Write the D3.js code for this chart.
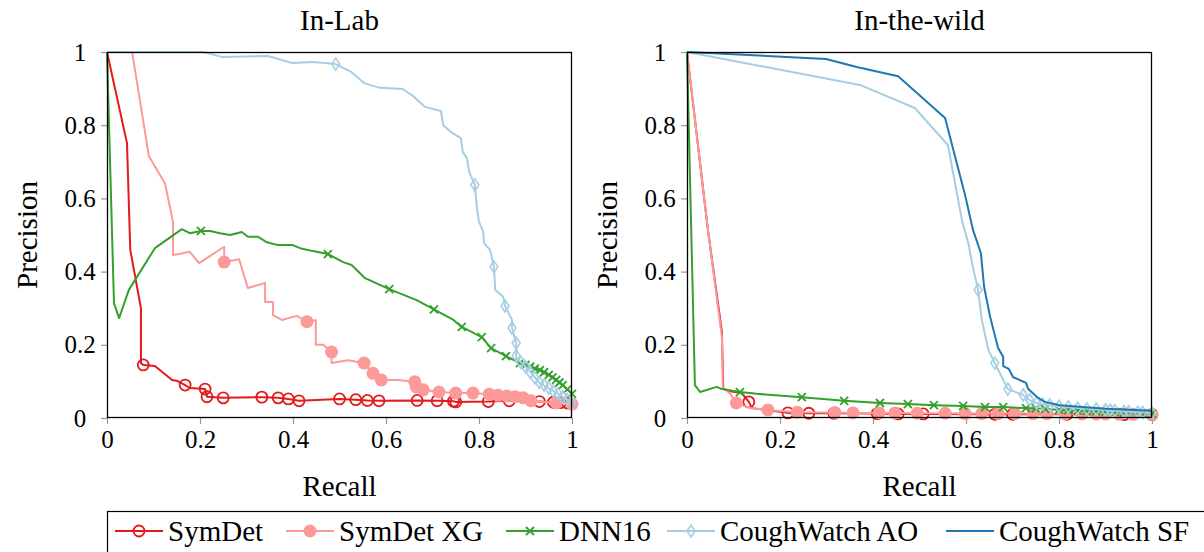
<!DOCTYPE html>
<html>
<head>
<meta charset="utf-8">
<script src="https://cdn.jsdelivr.net/npm/d3@7"></script>
<style>
  html, body { margin: 0; padding: 0; background: #fff; }
  svg { display: block; }
  text { font-family: "Liberation Serif", "DejaVu Serif", serif; fill: #000; }
</style>
</head>
<body>
<svg id="chart" width="1204" height="552"></svg>
<script>
// ---- Data: precision/recall curves ----
const seriesNames = ["SymDet", "SymDet XG", "DNN16", "CoughWatch AO", "CoughWatch SF"];
const panelTitles = ["In-Lab", "In-the-wild"];
const tickValues = [0, 0.2, 0.4, 0.6, 0.8, 1];

// In-Lab
const labSymDet = [[0,1],[0.043,0.751],[0.05,0.46],[0.073,0.30],[0.073,0.15],[0.078,0.145],[0.103,0.142],[0.14,0.104],[0.15,0.102],[0.168,0.09],[0.178,0.082],[0.211,0.079],[0.215,0.058],[0.25,0.055],[0.333,0.057],[0.368,0.055],[0.39,0.052],[0.413,0.047],[0.5,0.052],[0.535,0.05],[0.56,0.048],[0.585,0.047],[0.667,0.048],[0.71,0.047],[0.745,0.046],[0.75,0.044],[0.82,0.045],[0.865,0.047],[0.93,0.045],[0.96,0.043],[0.98,0.042],[1,0.04]];
const labSymDetMarks = [[0.078,0.145],[0.168,0.09],[0.211,0.079],[0.215,0.058],[0.25,0.055],[0.333,0.057],[0.368,0.055],[0.39,0.052],[0.413,0.047],[0.5,0.052],[0.535,0.05],[0.56,0.048],[0.585,0.047],[0.667,0.048],[0.71,0.047],[0.745,0.046],[0.75,0.044],[0.82,0.045],[0.865,0.047],[0.93,0.045],[0.96,0.043],[0.975,0.042],[0.99,0.041]];

const labSymDetXG = [[0,1],[0.054,1],[0.09,0.716],[0.125,0.64],[0.142,0.535],[0.142,0.445],[0.178,0.454],[0.198,0.423],[0.252,0.468],[0.252,0.426],[0.284,0.434],[0.303,0.355],[0.34,0.369],[0.34,0.317],[0.357,0.317],[0.357,0.281],[0.376,0.268],[0.408,0.279],[0.43,0.263],[0.449,0.268],[0.449,0.2],[0.465,0.2],[0.483,0.18],[0.483,0.15],[0.518,0.158],[0.553,0.15],[0.572,0.122],[0.59,0.104],[0.625,0.104],[0.662,0.099],[0.665,0.085],[0.68,0.077],[0.714,0.071],[0.75,0.068],[0.787,0.068],[0.822,0.065],[0.841,0.062],[0.86,0.06],[0.878,0.058],[0.895,0.055],[0.912,0.047],[0.966,0.041],[1,0.038]];
const labSymDetXGMarks = [[0.252,0.426],[0.43,0.263],[0.483,0.18],[0.553,0.15],[0.572,0.122],[0.59,0.104],[0.662,0.099],[0.665,0.085],[0.68,0.077],[0.714,0.071],[0.75,0.068],[0.787,0.068],[0.822,0.065],[0.841,0.062],[0.86,0.06],[0.878,0.058],[0.895,0.055],[0.912,0.047],[0.966,0.041],[1,0.038]];

const labDNN16 = [[0,1],[0.015,0.314],[0.026,0.273],[0.047,0.35],[0.103,0.464],[0.161,0.516],[0.178,0.505],[0.202,0.511],[0.222,0.511],[0.243,0.505],[0.265,0.5],[0.29,0.508],[0.303,0.495],[0.325,0.495],[0.344,0.48],[0.366,0.473],[0.398,0.473],[0.415,0.464],[0.443,0.456],[0.475,0.448],[0.508,0.426],[0.526,0.418],[0.555,0.382],[0.607,0.352],[0.666,0.322],[0.703,0.297],[0.745,0.268],[0.763,0.249],[0.806,0.221],[0.826,0.191],[0.858,0.169],[0.888,0.15],[0.91,0.14],[0.931,0.131],[0.95,0.118],[0.966,0.104],[0.98,0.09],[1,0.066]];
const labDNN16Marks = [[0.202,0.511],[0.475,0.448],[0.607,0.352],[0.703,0.297],[0.763,0.249],[0.806,0.221],[0.826,0.191],[0.858,0.169],[0.888,0.15],[0.9,0.145],[0.91,0.14],[0.92,0.135],[0.931,0.131],[0.94,0.125],[0.95,0.118],[0.958,0.111],[0.966,0.104],[0.973,0.097],[0.98,0.09],[0.99,0.078],[1,0.066]];

const labCoughAO = [[0,1],[0.207,1],[0.249,0.986],[0.346,0.989],[0.398,0.97],[0.443,0.973],[0.492,0.967],[0.526,0.945],[0.553,0.915],[0.587,0.902],[0.636,0.899],[0.658,0.88],[0.684,0.85],[0.718,0.839],[0.723,0.8],[0.742,0.779],[0.761,0.765],[0.765,0.727],[0.774,0.71],[0.779,0.672],[0.791,0.637],[0.796,0.568],[0.8,0.536],[0.809,0.51],[0.811,0.478],[0.824,0.459],[0.832,0.413],[0.835,0.35],[0.852,0.331],[0.856,0.306],[0.871,0.268],[0.871,0.246],[0.88,0.205],[0.88,0.164],[0.903,0.137],[0.931,0.095],[0.968,0.068],[1,0.04]];
const labCoughAOMarks = [[0.492,0.967],[0.791,0.637],[0.832,0.413],[0.856,0.306],[0.871,0.246],[0.88,0.205],[0.88,0.17],[0.89,0.152],[0.9,0.14],[0.91,0.125],[0.92,0.11],[0.93,0.097],[0.94,0.09],[0.95,0.082],[0.96,0.073],[0.97,0.066],[0.98,0.058],[0.99,0.05],[1,0.04]];

// In-the-wild
const wildSymDet = [[0,1],[0.045,0.514],[0.075,0.235],[0.078,0.08],[0.09,0.074],[0.118,0.068],[0.133,0.044],[0.14,0.027],[0.217,0.014],[0.262,0.013],[0.316,0.013],[0.409,0.012],[0.454,0.011],[0.508,0.011],[0.662,0.01],[0.817,0.01],[0.94,0.009],[1,0.009]];
const wildSymDetMarks = [[0.133,0.044],[0.217,0.014],[0.262,0.013],[0.316,0.013],[0.409,0.012],[0.454,0.011],[0.508,0.011],[0.662,0.01],[0.7,0.01],[0.817,0.01],[0.94,0.009],[1,0.009]];

const wildSymDetXG = [[0,1],[0.045,0.514],[0.075,0.221],[0.077,0.082],[0.092,0.068],[0.106,0.041],[0.135,0.027],[0.174,0.022],[0.237,0.016],[0.318,0.015],[0.357,0.014],[0.413,0.014],[0.447,0.014],[0.495,0.013],[0.555,0.013],[0.598,0.012],[0.634,0.012],[0.669,0.012],[0.705,0.012],[0.744,0.012],[0.774,0.012],[0.813,0.011],[0.85,0.011],[0.88,0.011],[0.9,0.011],[0.93,0.01],[0.96,0.01],[1,0.01]];
const wildSymDetXGMarks = [[0.106,0.041],[0.174,0.022],[0.237,0.016],[0.318,0.015],[0.357,0.014],[0.413,0.014],[0.447,0.014],[0.495,0.013],[0.555,0.013],[0.598,0.012],[0.634,0.012],[0.669,0.012],[0.705,0.012],[0.744,0.012],[0.774,0.012],[0.813,0.011],[0.85,0.011],[0.88,0.011],[0.9,0.011],[0.93,0.01],[0.96,0.01],[1,0.01]];

const wildDNN16 = [[0,1],[0.017,0.09],[0.028,0.071],[0.064,0.085],[0.075,0.079],[0.114,0.071],[0.15,0.066],[0.247,0.057],[0.338,0.047],[0.415,0.041],[0.475,0.038],[0.531,0.035],[0.594,0.033],[0.641,0.03],[0.68,0.03],[0.729,0.027],[0.77,0.025],[0.8,0.022],[0.84,0.02],[0.88,0.018],[0.92,0.016],[0.96,0.014],[1,0.012]];
const wildDNN16Marks = [[0.114,0.071],[0.247,0.057],[0.338,0.047],[0.415,0.041],[0.475,0.038],[0.531,0.035],[0.594,0.033],[0.641,0.03],[0.68,0.03],[0.729,0.027],[0.75,0.026],[0.77,0.025],[0.8,0.022],[0.82,0.021],[0.84,0.02],[0.86,0.019],[0.88,0.018],[0.9,0.017],[0.92,0.016],[0.94,0.015],[0.96,0.014],[0.98,0.013],[1,0.012]];

const wildCoughAO = [[0,1],[0.372,0.91],[0.49,0.847],[0.561,0.746],[0.592,0.536],[0.606,0.473],[0.613,0.423],[0.626,0.35],[0.634,0.268],[0.648,0.186],[0.662,0.15],[0.677,0.112],[0.69,0.079],[0.723,0.063],[0.737,0.049],[0.752,0.041],[0.78,0.035],[0.82,0.03],[0.86,0.025],[0.9,0.022],[0.94,0.018],[0.97,0.016],[1,0.014]];
const wildCoughAOMarks = [[0.626,0.35],[0.662,0.15],[0.69,0.079],[0.723,0.063],[0.737,0.049],[0.752,0.041],[0.765,0.038],[0.78,0.035],[0.8,0.032],[0.82,0.03],[0.84,0.027],[0.86,0.025],[0.88,0.024],[0.9,0.022],[0.91,0.021],[0.92,0.02],[0.94,0.018],[0.95,0.017],[0.97,0.016],[0.98,0.015],[1,0.014]];

const wildCoughSF = [[0,1],[0.299,0.981],[0.365,0.959],[0.454,0.934],[0.555,0.82],[0.598,0.609],[0.615,0.514],[0.626,0.473],[0.632,0.45],[0.639,0.358],[0.652,0.276],[0.669,0.191],[0.68,0.167],[0.68,0.142],[0.692,0.134],[0.701,0.112],[0.729,0.096],[0.734,0.079],[0.752,0.058],[0.769,0.044],[0.802,0.035],[0.85,0.03],[0.9,0.025],[1,0.02]];

// ---- Styles ----
const colors = { "SymDet": "#e31a1c", "SymDet XG": "#fb9a99", "DNN16": "#33a02c", "CoughWatch AO": "#a6cee3", "CoughWatch SF": "#1f78b4" };
const markerKind = { "SymDet": "ocircle", "SymDet XG": "fcircle", "DNN16": "cross", "CoughWatch AO": "diamond", "CoughWatch SF": null };

const panels = [
  { title: panelTitles[0], left: 107, series: [
    ["SymDet", labSymDet, labSymDetMarks],
    ["SymDet XG", labSymDetXG, labSymDetXGMarks],
    ["DNN16", labDNN16, labDNN16Marks],
    ["CoughWatch AO", labCoughAO, labCoughAOMarks]
  ]},
  { title: panelTitles[1], left: 687, series: [
    ["SymDet", wildSymDet, wildSymDetMarks],
    ["SymDet XG", wildSymDetXG, wildSymDetXGMarks],
    ["DNN16", wildDNN16, wildDNN16Marks],
    ["CoughWatch AO", wildCoughAO, wildCoughAOMarks],
    ["CoughWatch SF", wildCoughSF, []]
  ]}
];

const svg = d3.select("#chart");
const plotW = 465, plotTop = 52, plotBottom = 418;
const labelSize = 29, tickSize = 25, legendSize = 29;

function drawMarker(g, kind, x, y, color) {
  if (kind === "ocircle") {
    g.append("circle").attr("cx", x).attr("cy", y).attr("r", 5.5)
      .attr("fill", "none").attr("stroke", color).attr("stroke-width", 1.8);
  } else if (kind === "fcircle") {
    g.append("circle").attr("cx", x).attr("cy", y).attr("r", 6.5).attr("fill", color);
  } else if (kind === "cross") {
    const s = 4;
    g.append("path").attr("d", `M${x-s},${y-s}L${x+s},${y+s}M${x-s},${y+s}L${x+s},${y-s}`)
      .attr("stroke", color).attr("stroke-width", 1.8).attr("fill", "none");
  } else if (kind === "diamond") {
    const w = 4, h = 6;
    g.append("path").attr("d", `M${x},${y-h}L${x+w},${y}L${x},${y+h}L${x-w},${y}Z`)
      .attr("stroke", color).attr("stroke-width", 1.6).attr("fill", "none");
  }
}

panels.forEach(p => {
  const x = d3.scaleLinear().domain([0, 1]).range([p.left, p.left + plotW]);
  const y = d3.scaleLinear().domain([0, 1]).range([plotBottom, plotTop]);
  const g = svg.append("g");

  // axes with outward grey ticks
  const fmt = d => d3.format("~g")(d);
  const xAxis = d3.axisBottom(x).tickValues(tickValues).tickSize(6).tickPadding(4).tickFormat(fmt);
  const yAxis = d3.axisLeft(y).tickValues(tickValues).tickSize(6).tickPadding(6).tickFormat(fmt);
  const gx = g.append("g").attr("transform", `translate(0,${plotBottom})`).call(xAxis);
  const gy = g.append("g").attr("transform", `translate(${p.left},0)`).call(yAxis);
  [gx, gy].forEach(a => {
    a.attr("font-family", null).attr("font-size", null);
    a.select(".domain").remove();
    a.selectAll(".tick line").attr("stroke", "#999").attr("stroke-width", 1.2);
    a.selectAll(".tick text").attr("font-size", tickSize).attr("fill", "#000");
  });
  gx.selectAll(".tick text").attr("dy", "0.8em");
  // y tick labels are centred in a fixed column left of the axis
  gy.selectAll(".tick text").attr("text-anchor", "middle").attr("x", -27);

  // curves
  const line = d3.line().x(d => x(d[0])).y(d => y(d[1]));
  const clipId = "clip" + p.left;
  svg.append("clipPath").attr("id", clipId).append("rect")
    .attr("x", p.left - 8).attr("y", plotTop - 8).attr("width", plotW + 16).attr("height", plotBottom - plotTop + 16);
  const cg = g.append("g").attr("clip-path", `url(#${clipId})`);
  p.series.forEach(([name, pts, marks]) => {
    const c = colors[name];
    cg.append("path").datum(pts).attr("d", line).attr("fill", "none")
      .attr("stroke", c).attr("stroke-width", 2).attr("stroke-linejoin", "round");
    marks.forEach(m => drawMarker(cg, markerKind[name], x(m[0]), y(m[1]), c));
  });

  // frame
  g.append("rect").attr("x", p.left + 0.5).attr("y", plotTop + 0.5)
    .attr("width", plotW - 1).attr("height", plotBottom - plotTop - 1)
    .attr("fill", "none").attr("stroke", "#000").attr("stroke-width", 1.3);

  // titles and axis labels
  g.append("text").attr("x", p.left + plotW / 2).attr("y", 30).attr("text-anchor", "middle")
    .attr("font-size", labelSize).text(p.title);
  g.append("text").attr("x", p.left + plotW / 2).attr("y", 496).attr("text-anchor", "middle")
    .attr("font-size", labelSize).text("Recall");
  g.append("text").attr("transform", `translate(${p.left - 70},${(plotTop + plotBottom) / 2}) rotate(-90)`)
    .attr("text-anchor", "middle").attr("font-size", labelSize).text("Precision");
});

// legend
const lg = svg.append("g");
lg.append("rect").attr("x", 107.5).attr("y", 511.5).attr("width", 1120).attr("height", 60)
  .attr("fill", "none").attr("stroke", "#000").attr("stroke-width", 1.2);
const legendX = [115, 286, 506, 667, 946];
seriesNames.forEach((name, i) => {
  const x0 = legendX[i], yy = 531;
  const c = colors[name];
  lg.append("line").attr("x1", x0).attr("x2", x0 + 48).attr("y1", yy).attr("y2", yy)
    .attr("stroke", c).attr("stroke-width", 2);
  if (markerKind[name]) drawMarker(lg, markerKind[name], x0 + 24, yy, c);
  lg.append("text").attr("x", x0 + 53).attr("y", yy + 10).attr("font-size", legendSize).text(name);
});
</script>
</body>
</html>
